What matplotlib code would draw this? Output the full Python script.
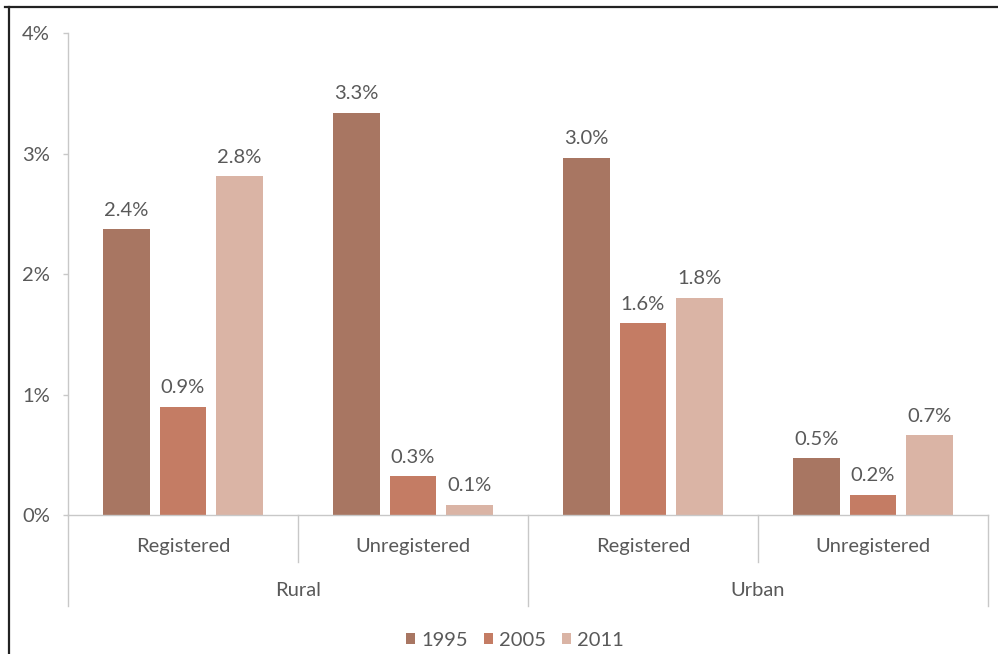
import matplotlib.pyplot as plt
from matplotlib.patches import Patch
from matplotlib.lines import Line2D
from matplotlib.transforms import blended_transform_factory
import numpy as np

plt.rcParams['font.family'] = ['Lato', 'DejaVu Sans']

areas = ['Rural', 'Urban']
kinds = ['Registered', 'Unregistered', 'Registered', 'Unregistered']
years = ['1995', '2005', '2011']
share_1995 = [2.37, 3.34, 2.96, 0.47]
share_2005 = [0.90, 0.32, 1.59, 0.17]
share_2011 = [2.81, 0.08, 1.80, 0.66]

colors = ['#a87662', '#c47c64', '#dab4a5']
text_col = '#595959'
axis_col = '#c8c8c8'

fig = plt.figure(figsize=(9.98, 6.54), dpi=100)
ax = fig.add_axes([0.0681, 0.2125, 0.9218, 0.737])

x = np.arange(len(kinds))
step = 0.246
width = 0.202
for k, vals in enumerate([share_1995, share_2005, share_2011]):
    pos = x + (k - 1) * step
    ax.bar(pos, vals, width, color=colors[k], zorder=2)
    for px, v in zip(pos, vals):
        ax.annotate(f'{v:.1f}%', (px, v), xytext=(0, 10), textcoords='offset points',
                    ha='center', va='baseline', fontsize=14.5, color=text_col)

ax.set_xlim(-0.5, len(kinds) - 0.5)
ax.set_ylim(0, 4)
ax.set_yticks([0, 1, 2, 3, 4])
ax.set_yticklabels([f'{t}%' for t in range(5)])
ax.tick_params(axis='y', length=3.6, width=1, color=axis_col, pad=9.4,
               labelsize=14.5, labelcolor=text_col)
ax.set_xticks([])
for s in ['top', 'right']:
    ax.spines[s].set_visible(False)
for s in ['left', 'bottom']:
    ax.spines[s].set_color(axis_col)
    ax.spines[s].set_linewidth(1)

# two-level category axis under the bars
trans = blended_transform_factory(ax.transData, ax.transAxes)
for i, edge in enumerate(np.arange(len(kinds) + 1) - 0.5):
    low = -0.189 if i % 2 == 0 else -0.0975
    ax.add_line(Line2D([edge, edge], [0, low], transform=trans, color=axis_col,
                       lw=1, clip_on=False))
for xi, name in zip(x, kinds):
    ax.text(xi, -0.066, name, transform=trans, ha='center', va='center',
            fontsize=14.5, color=text_col)
for j, name in enumerate(areas):
    ax.text(2 * j + 0.5, -0.156, name, transform=trans, ha='center', va='center',
            fontsize=14.5, color=text_col)

handles = [Patch(facecolor=c, edgecolor='none') for c in colors]
fig.legend(handles, years, loc='center', bbox_to_anchor=(515 / 998, 0.0214), ncol=3,
           frameon=False, fontsize=14.5, labelcolor=text_col, handlelength=0.45,
           handleheight=0.45, handletextpad=0.3, columnspacing=0.8)

# page frame edges
fig.add_artist(Line2D([5 / 998, 1], [1 - 7 / 654] * 2, transform=fig.transFigure,
                      color='#222222', lw=1.6))
fig.add_artist(Line2D([9 / 998] * 2, [0, 1 - 7 / 654], transform=fig.transFigure,
                      color='#222222', lw=1.6))

fig.savefig('out.png', dpi=100)
